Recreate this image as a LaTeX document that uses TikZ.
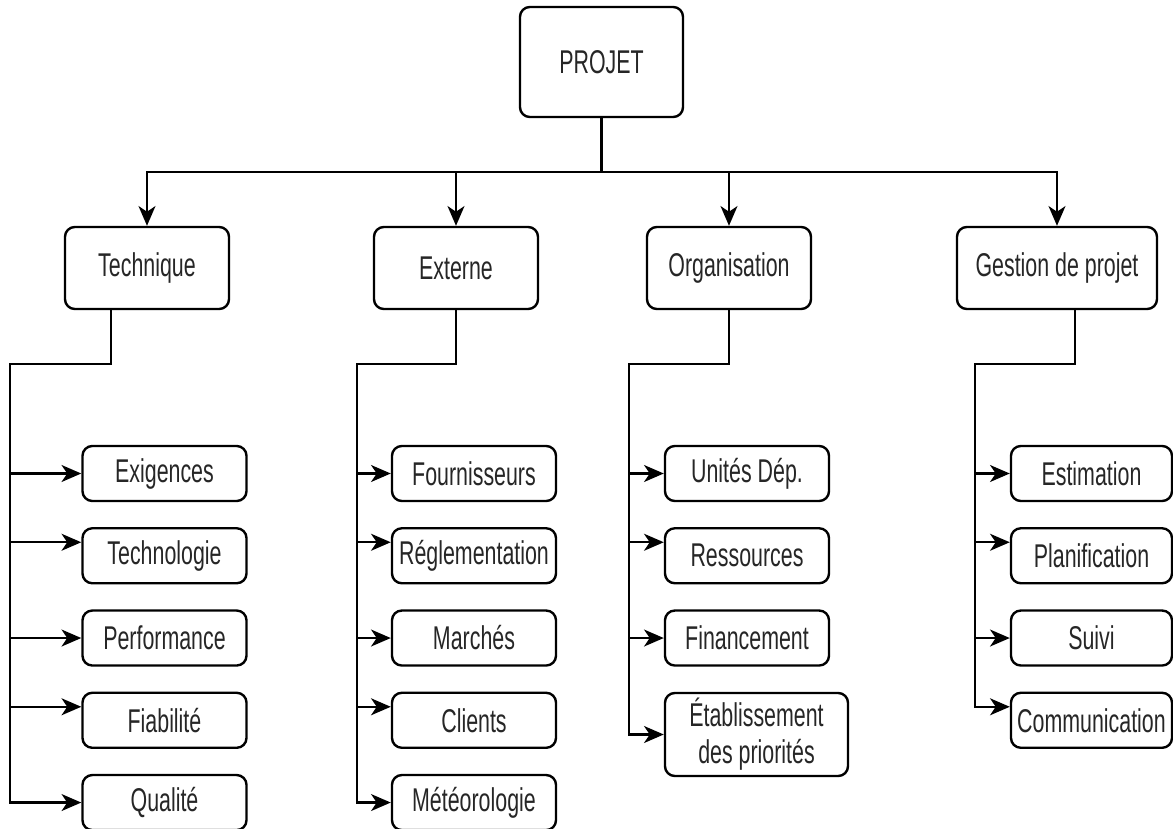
\documentclass[tikz,border=0pt]{standalone}
\usepackage{fontspec}
\setmainfont[FakeStretch=0.65]{Liberation Sans}
\usetikzlibrary{shapes,arrows.meta,calc}

\begin{document}
\begin{tikzpicture}[->,>={Stealth[length=14pt,width=12pt,inset=4pt]},x=0.025cm,y=-0.025cm,line width=1.7pt,node distance=2.056cm]
\tikzstyle{every node}=[font=\fontsize{23.4}{26.5}\selectfont,text=black!85]
\tikzstyle{bloc}=[draw,rounded corners=7pt,inner sep=0pt,align=center]
\tikzstyle{racine}=[bloc,minimum width=4.075cm,minimum height=2.75cm]
\tikzstyle{branche}=[bloc,minimum width=4.1cm,minimum height=2.05cm]
\tikzstyle{feuille}=[bloc,minimum width=4.1cm,minimum height=1.375cm]
\useasboundingbox (0,0) rectangle (1173,829);

\node[racine] (projet) at (601.5,62) {PROJET};
\node[branche] (tech) at (147,268) {Technique};
\node[branche] (ext) at (456,268) {Externe};
\node[branche] (org) at (729,268) {Organisation};
\node[branche,minimum width=5cm] (gest) at (1057,268) {Gestion de projet};

% technique
\node[feuille] (tech1) at (164.5,473.5) {Exigences};
\node[feuille][below of=tech1] (tech2) {Technologie};
\node[feuille][below of=tech2] (tech3) {Performance};
\node[feuille][below of=tech3] (tech4) {Fiabilité};
\node[feuille][below of=tech4] (tech5) {Qualité};
% externe
\node[feuille] (ext1) at (474,473.5) {Fournisseurs};
\node[feuille][below of=ext1] (ext2) {Réglementation};
\node[feuille][below of=ext2] (ext3) {Marchés};
\node[feuille][below of=ext3] (ext4) {Clients};
\node[feuille][below of=ext4] (ext5) {Météorologie};
% organisation
\node[feuille] (org1) at (747,473.5) {Unités Dép.};
\node[feuille][below of=org1] (org2) {Ressources};
\node[feuille][below of=org2] (org3) {Financement};
\node[bloc,minimum width=4.575cm,minimum height=2.075cm] (org4) at (756.5,734.5) {Établissement\\des priorités};
% gestion de projet
\node[feuille,minimum width=4.025cm] (gest1) at (1091.5,473.5) {Estimation};
\node[feuille,minimum width=4.025cm][below of=gest1] (gest2) {Planification};
\node[feuille,minimum width=4.025cm][below of=gest2] (gest3) {Suivi};
\node[feuille,minimum width=4.025cm][below of=gest3] (gest4) {Communication};

\coordinate (bus) at (601.5,172);
\draw (projet.south) -- (bus) -| (tech.north);
\draw (projet.south) -- (bus) -| (ext.north);
\draw (projet.south) -- (bus) -| (org.north);
\draw (projet.south) -- (bus) -| (gest.north);

\coordinate (techK) at (10,364);
\draw ([xshift=-0.9cm]tech.south) |- (techK) |- (tech1.west);
\draw (techK) |- ([yshift=0.3375cm]tech2.west);
\draw (techK) |- (tech3.west);
\draw (techK) |- ([yshift=0.3375cm]tech4.west);
\draw (techK) |- (tech5.west);

\coordinate (extK) at (357,364);
\draw (ext.south) |- (extK) |- (ext1.west);
\draw (extK) |- ([yshift=0.3375cm]ext2.west);
\draw (extK) |- (ext3.west);
\draw (extK) |- ([yshift=0.3375cm]ext4.west);
\draw (extK) |- (ext5.west);

\coordinate (orgK) at (629,364);
\draw (org.south) |- (orgK) |- (org1.west);
\draw (orgK) |- ([yshift=0.3375cm]org2.west);
\draw (orgK) |- (org3.west);
\draw (orgK) |- (org4.west);

\coordinate (gestK) at (975,364);
\draw ([xshift=0.45cm]gest.south) |- (gestK) |- (gest1.west);
\draw (gestK) |- ([yshift=0.3375cm]gest2.west);
\draw (gestK) |- (gest3.west);
\draw (gestK) |- ([yshift=0.3375cm]gest4.west);
\end{tikzpicture}
\end{document}
